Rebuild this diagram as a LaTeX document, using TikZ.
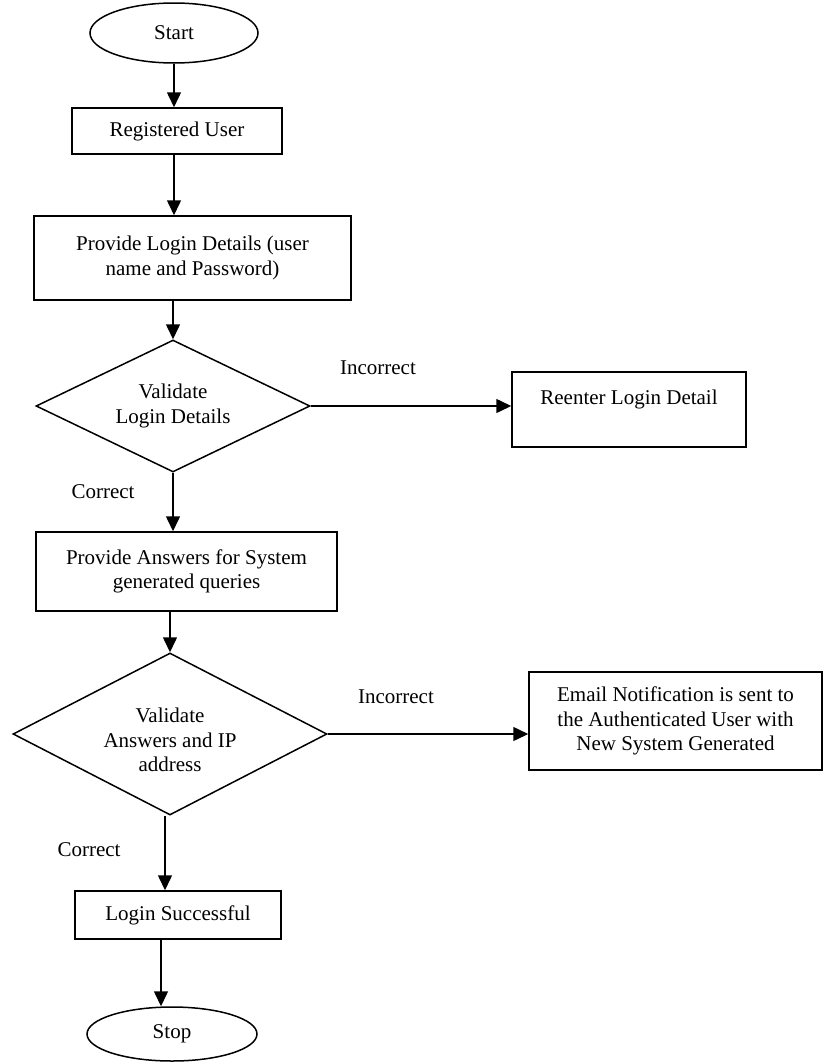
\documentclass[tikz,border=0pt]{standalone}
\usepackage{fontspec}
\setmainfont{Liberation Serif}
\usetikzlibrary{shapes.geometric,arrows.meta}
\begin{document}
\begin{tikzpicture}[x=1pt,y=-1pt,
  txt/.style={font=\fontsize{21}{24.5}\selectfont, align=center, inner sep=0pt},
  box/.style={txt, draw, line width=1.5pt, rectangle},
  term/.style={txt, draw, line width=1.5pt, ellipse},
  decide/.style={txt, draw, line width=1.5pt, diamond, aspect=2},
  arr/.style={line width=1.5pt, -{Triangle[length=15pt,width=14pt]}}]
\useasboundingbox (0,0) rectangle (835,1063);
\fill[white] (0,0) rectangle (835,1063);

\node[term, minimum width=168, minimum height=60] (start) at (174,33) {Start};
\node[box, minimum width=210, minimum height=46] (reg) at (177,131) {Registered User};
\node[box, minimum width=317, minimum height=84] (login) at (192.5,258) {Provide Login Details (user\\name and Password)};
\node[decide, minimum width=274, minimum height=132] (d1) at (173,406) {Validate\\Login Details};
\node[box, minimum width=234, minimum height=75] (reenter) at (629,409.5) {Reenter Login Detail\\~};
\node[box, minimum width=301, minimum height=79] (ans) at (186.5,571.5) {Provide Answers for System\\generated queries};
\node[decide, minimum width=314, minimum height=162,
  label={[txt, yshift=-6pt]center:Validate\\Answers and IP\\address}] (d2) at (170,734) {};
\node[box, minimum width=293, minimum height=98] (email) at (675.5,721) {Email Notification is sent to\\the Authenticated User with\\New System Generated};
\node[box, minimum width=206, minimum height=48] (ls) at (178,915) {Login Successful};
\node[term, minimum width=170, minimum height=54] (stop) at (172,1034) {Stop};

\node[txt] (inc1) at (378,368) {Incorrect};
\node[txt] (inc2) at (396,697) {Incorrect};
\node[txt] (cor1) at (103,492) {Correct};
\node[txt] (cor2) at (89,850) {Correct};

\draw[arr] (start.south) -- (start.south |- reg.north);
\draw[arr] ([xshift=-3]reg.south) -- ([xshift=-3]reg.south |- login.north);
\draw[arr] (d1.north |- login.south) -- (d1.north);
\draw[arr] (d1.south) -- (d1.south |- ans.north);
\draw[arr] (d2.north |- ans.south) -- (d2.north);
\draw[arr] (d1.east) -- (d1.east -| reenter.west);
\draw[arr] (d2.east) -- (d2.east -| email.west);
\draw[arr] ([xshift=-5]d2.south) -- ([xshift=-5]d2.south |- ls.north);
\draw[arr] ([xshift=-17]ls.south) -- ([xshift=-17]ls.south |- stop.north);
\end{tikzpicture}
\end{document}
